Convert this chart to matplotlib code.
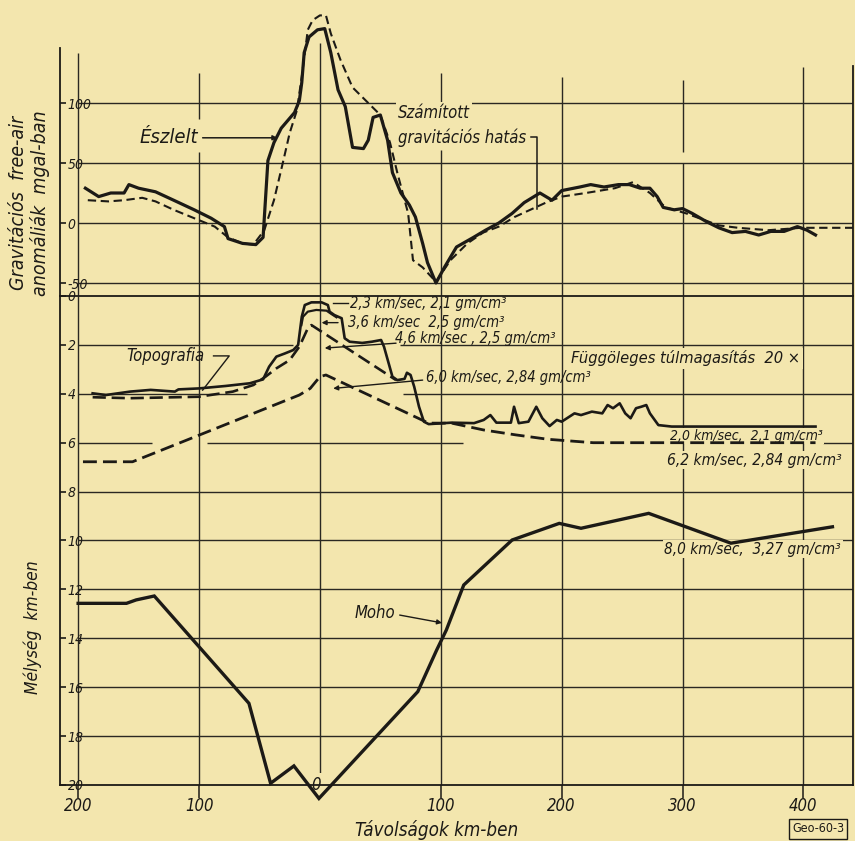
import matplotlib
matplotlib.use('Agg')
import matplotlib.pyplot as plt

# ---------------- data ----------------
# observed free-air gravity (Észlelt), km / mgal
obs_x = [-194, -183, -173, -162, -158, -150, -136, -121, -104, -90, -79, -76, -64, -53, -47,
         -43, -38, -32, -21, -17, -15, -13, -9, -2, 4, 9, 15, 21, 27, 36, 40, 44, 50, 56,
         60, 67, 74, 79, 85, 89, 96, 103, 113, 127, 137, 148, 159, 169, 182, 192, 200, 215,
         224, 235, 247, 256, 265, 273, 279, 284, 293, 300, 308, 320, 330, 341, 352, 363,
         373, 384, 395, 403, 410]
obs_g = [29, 22, 25, 25, 32, 29, 26, 19, 11, 4, -3, -13, -17, -18, -12,
         52, 67, 79, 92, 102, 117, 142, 155, 161, 162, 142, 111, 97, 63, 62, 69, 88, 90, 69,
         42, 25, 15, 5, -17, -33, -50, -37, -20, -12, -6, 0, 8, 17, 25, 19, 27, 30,
         32, 30, 32, 32, 29, 29, 22, 13, 11, 12, 8, 1, -4, -8, -7, -10,
         -7, -7, -3, -6, -10]

# computed gravity effect (Számított gravitációs hatás)
calc_x = [-192, -175, -162, -147, -136, -121, -104, -87, -76, -64, -55, -46, -38, -30, -25,
          -19, -15, -10, -6, 0, 5, 9, 17, 27, 37, 50, 58, 64, 73, 77, 85, 96, 108, 122,
          135, 148, 161, 174, 187, 200, 220, 244, 259, 273, 286, 303, 330, 346, 371, 398, 441]
calc_g = [19, 18, 19, 21, 18, 11, 4, -3, -12, -17, -18, -6, 19, 53, 75,
          94, 122, 161, 169, 173, 173, 158, 136, 113, 103, 90, 67, 42, 8, -31, -37, -49, -31, -17,
          -8, -3, 5, 11, 17, 22, 25, 29, 34, 25, 13, 8, -2, -4, -6, -4, -4]

# topography (km / depth km)
topo_x = [-188, -177, -157, -140, -120, -117, -100, -78, -58, -47, -42, -36, -29, -22, -18,
          -15, -12.5, -7, 1.4, 6.6, 8, 12, 18, 20.5, 24.6, 35, 43, 50.6, 53, 60, 64, 70,
          72, 75, 78, 82, 86, 90, 109, 127.5, 135.5, 141, 146, 158, 160.6, 164.5, 172.5,
          179, 184, 190, 196, 200, 210.6, 216, 225, 233.6, 238, 242.5, 248, 252.6, 257,
          261.5, 265.8, 270, 273, 280, 291, 410]
topo_d = [3.98, 4.05, 3.91, 3.84, 3.91, 3.82, 3.78, 3.68, 3.57, 3.41, 2.89, 2.48, 2.35, 2.21, 2.0,
          0.85, 0.37, 0.26, 0.26, 0.37, 0.64, 0.78, 0.91, 1.73, 1.87, 1.92, 1.87, 1.8, 2.07, 3.3, 3.44, 3.39,
          3.14, 3.23, 3.71, 4.53, 5.14, 5.24, 5.18, 5.2, 5.07, 4.87, 5.18, 5.18, 4.53, 5.2, 5.14,
          4.53, 5.0, 5.32, 5.07, 5.14, 4.8, 4.87, 4.73, 4.8, 4.46, 4.59, 4.39, 4.8, 5.0,
          4.59, 4.53, 4.46, 4.8, 5.28, 5.34, 5.34]

# interface 2.3 / 3.6 km/sec
inner_x = [-15.3, -14, -10, -3, 5.5, 9.6, 13.7]
inner_d = [1.19, 0.85, 0.64, 0.57, 0.6, 0.74, 0.87]

# top of 4.6 km/sec layer
l46_x = [-188, -157, -100, -72, -55, -45, -36, -25, -17, -10, -7, 63]
l46_d = [4.14, 4.18, 4.12, 3.91, 3.64, 3.3, 2.96, 2.62, 2.07, 1.32, 1.19, 3.44]

# top of 6.0 / 6.2 km/sec layer
l60_x = [-196, -155, -17, -8, 0, 5, 90, 109, 135.5, 162, 188.6, 226, 410]
l60_d = [6.78, 6.78, 4.05, 3.78, 3.3, 3.23, 5.2, 5.2, 5.48, 5.68, 5.86, 6.0, 6.0]

# Moho
moho_x = [-200, -160, -152, -137, -58.7, -40.8, -21.5, -0.8, 81, 96.6, 104.6, 119, 159,
          198, 216, 272, 340, 424]
moho_d = [12.57, 12.57, 12.43, 12.27, 16.66, 19.93, 19.22, 20.55, 16.18, 14.48, 13.66, 11.82, 9.98,
          9.3, 9.5, 8.89, 10.11, 9.44]

x_ticks = [-200, -100, 0, 100, 200, 300, 400]
x_tick_labels = ['200', '100', '', '100', '200', '300', '400']
g_ticks = [100, 50, 0, -50]
g_tick_labels = ['100', '50', '0', '-50']
d_ticks = [0, 2, 4, 6, 8, 10, 12, 14, 16, 18, 20]
d_tick_labels = ['0', '2', '4', '6', '8', '10', '12', '14', '16', '18', '20']

# ---------------- style ----------------
BG = '#f3e6ae'
INK = '#1c1a16'
GRID = '#2a2822'
plt.rcParams['font.family'] = ['DejaVu Sans']
plt.rcParams['font.style'] = 'italic'
plt.rcParams['font.stretch'] = 'condensed'
plt.rcParams['text.color'] = INK

XMIN, XMAX = -215, 441
GLO, GHI = -60.83, 181.67

fig = plt.figure(figsize=(8.55, 8.41), dpi=100)
fig.patch.set_facecolor(BG)
L, W = 60 / 855, 793 / 855
axg = fig.add_axes([L, 0.64804, W, 0.34602])
axd = fig.add_axes([L, 0.06659, W, 0.58145])
for ax in (axg, axd):
    ax.set_facecolor('none')
    ax.set_xlim(XMIN, XMAX)
    for s in ax.spines.values():
        s.set_color(INK)
        s.set_linewidth(1.3)

# ---------- upper (gravity) panel ----------
axg.set_ylim(GLO, GHI)
axg.spines['top'].set_visible(False)
axg.spines['bottom'].set_visible(False)
axg.spines['left'].set_bounds(GLO, 146)
axg.spines['right'].set_bounds(GLO, 131)
axg.set_xticks([])
axg.set_yticks(g_ticks)
axg.set_yticklabels(g_tick_labels)
axg.tick_params(axis='y', direction='in', length=4, width=1.2, pad=-5.5,
                labelsize=10, colors=INK)
for lab in axg.get_yticklabels():
    lab.set_horizontalalignment('left')

for gy in g_ticks:
    axg.hlines(gy, -200, XMAX, color=GRID, lw=1.0, zorder=1)
for vx, segs in [(-200, [(GLO, 142)]), (-100, [(GLO, 59), (87, 125)]), (0, [(GLO, 150)]),
                 (100, [(GLO, 61), (100, 125)]), (200, [(GLO, 122)]),
                 (300, [(GLO, 50), (59, 119)]), (400, [(GLO, 130)])]:
    for a, b in segs:
        axg.vlines(vx, a, b, color=GRID, lw=1.0, zorder=1)

axg.plot(obs_x, obs_g, color=INK, lw=2.3, zorder=4, solid_joinstyle='round')
axg.plot(calc_x, calc_g, color=INK, lw=1.5, dashes=(4, 2.2), zorder=3)

axg.text(-125, 71, 'Észlelt', fontsize=14.5, ha='center', va='center')
axg.annotate('', xy=(-35, 71), xytext=(-97, 71),
             arrowprops=dict(arrowstyle='-|>', lw=1.1, color=INK, mutation_scale=7,
                             shrinkA=0, shrinkB=0))
axg.text(64.5, 92, 'Számított', fontsize=12, ha='left', va='center',
         bbox=dict(boxstyle='square,pad=0.1', fc=BG, ec='none'), zorder=2)
axg.text(64.5, 71, 'gravitációs hatás', fontsize=12, ha='left', va='center', zorder=2)
axg.plot([175, 180, 180], [71.5, 71.5, 12], color=INK, lw=1.1, zorder=3)

# ---------- lower (depth) panel ----------
axd.set_ylim(20, 0)
axd.set_yticks(d_ticks)
axd.set_yticklabels(d_tick_labels)
axd.tick_params(axis='y', direction='in', length=4, width=1.2, pad=-5.5,
                labelsize=10, colors=INK)
for lab in axd.get_yticklabels():
    lab.set_horizontalalignment('left')
axd.set_xticks(x_ticks)
axd.set_xticklabels(x_tick_labels)
axd.tick_params(axis='x', direction='out', length=9, width=1.1, pad=0,
                labelsize=12, colors=INK)

hsegs = {2: [(-200, -22), (66, XMAX)], 4: [(-200, -60), (69, XMAX)],
         6: [(-200, -139), (-93, 118), (416, XMAX)]}
for dy in d_ticks[1:-1]:
    for a, b in hsegs.get(dy, [(-200, XMAX)]):
        axd.hlines(dy, a, b, color=GRID, lw=1.0, zorder=1)
for vx in x_ticks:
    axd.vlines(vx, 0, 20, color=GRID, lw=1.0, zorder=1)

axd.plot(topo_x, topo_d, color=INK, lw=1.9, zorder=4, solid_joinstyle='round')
axd.plot(inner_x, inner_d, color=INK, lw=1.6, zorder=4)
axd.plot(l46_x, l46_d, color=INK, lw=1.9, dashes=(5, 2.2), zorder=3)
axd.plot(l60_x, l60_d, color=INK, lw=2.0, dashes=(5, 2.2), zorder=3)
axd.plot(moho_x, moho_d, color=INK, lw=2.4, zorder=4, clip_on=False,
         solid_joinstyle='miter')

axd.text(-3, 20, '0', fontsize=12, ha='center', va='center', zorder=2,
         bbox=dict(boxstyle='square,pad=0.15', fc=BG, ec='none'))

arrow_kw = dict(arrowstyle='-|>', lw=1.0, color=INK, mutation_scale=7, shrinkA=0, shrinkB=0)
axd.text(-128, 2.45, 'Topografia', fontsize=12, ha='center', va='center')
axd.plot([-88, -75, -97], [2.45, 2.45, 3.85], color=INK, lw=1.0, zorder=3)

axd.plot([10.7, 23], [0.27, 0.27], color=INK, lw=1.0, zorder=3)
axd.text(24.5, 0.3, '2,3 km/sec, 2,1 gm/cm³', fontsize=10.5, ha='left', va='center', zorder=5)
axd.annotate('', xy=(1.4, 1.09), xytext=(15, 1.09), arrowprops=arrow_kw)
axd.text(23, 1.1, '3,6 km/sec  2,5 gm/cm³', fontsize=10.5, ha='left', va='center', zorder=5)
axd.annotate('', xy=(4, 2.13), xytext=(63, 1.93), arrowprops=arrow_kw)
axd.text(62, 1.72, '4,6 km/sec , 2,5 gm/cm³', fontsize=10.5, ha='left', va='center', zorder=5)
axd.annotate('', xy=(11, 3.78), xytext=(85, 3.44), arrowprops=arrow_kw)
axd.text(88, 3.35, '6,0 km/sec, 2,84 gm/cm³', fontsize=10.5, ha='left', va='center', zorder=5)

axd.text(208, 2.54, 'Függöleges túlmagasítás  20 ×', fontsize=11.8, ha='left', va='center',
         zorder=2, bbox=dict(boxstyle='square,pad=0.15', fc=BG, ec='none'))
axd.text(289.5, 5.73, '2,0 km/sec,  2,1 gm/cm³', fontsize=10, ha='left', va='center',
         zorder=2, bbox=dict(boxstyle='square,pad=0.1', fc=BG, ec='none'))
axd.text(287, 6.72, '6,2 km/sec, 2,84 gm/cm³', fontsize=11.2, ha='left', va='center',
         zorder=2, bbox=dict(boxstyle='square,pad=0.1', fc=BG, ec='none'))
axd.text(285, 10.35, '8,0 km/sec,  3,27 gm/cm³', fontsize=11, ha='left', va='center',
         zorder=2, bbox=dict(boxstyle='square,pad=0.1', fc=BG, ec='none'))

axd.text(45.5, 12.97, 'Moho', fontsize=12, ha='center', va='center')
axd.annotate('', xy=(101, 13.37), xytext=(66, 13.05), arrowprops=arrow_kw)

# ---------- figure-level labels ----------
fig.text(19 / 855, 1 - 203 / 841, 'Gravitációs  free-air', rotation=90, fontsize=14,
         ha='center', va='center')
fig.text(40 / 855, 1 - 203 / 841, 'anomáliák  mgal-ban', rotation=90, fontsize=14,
         ha='center', va='center')
fig.text(33 / 855, 1 - 627 / 841, 'Mélység  km-ben', rotation=90, fontsize=12.5,
         ha='center', va='center')
fig.text(437 / 855, 1 - 830 / 841, 'Távolságok km-ben', fontsize=13.5, ha='center', va='center')
fig.text(818 / 855, 1 - 829 / 841, 'Geo-60-3', fontsize=9, ha='center', va='center',
         fontstyle='normal',
         bbox=dict(boxstyle='square,pad=0.25', fc=BG, ec=INK, lw=1.0))

fig.savefig('out.png', dpi=100, facecolor=BG)
